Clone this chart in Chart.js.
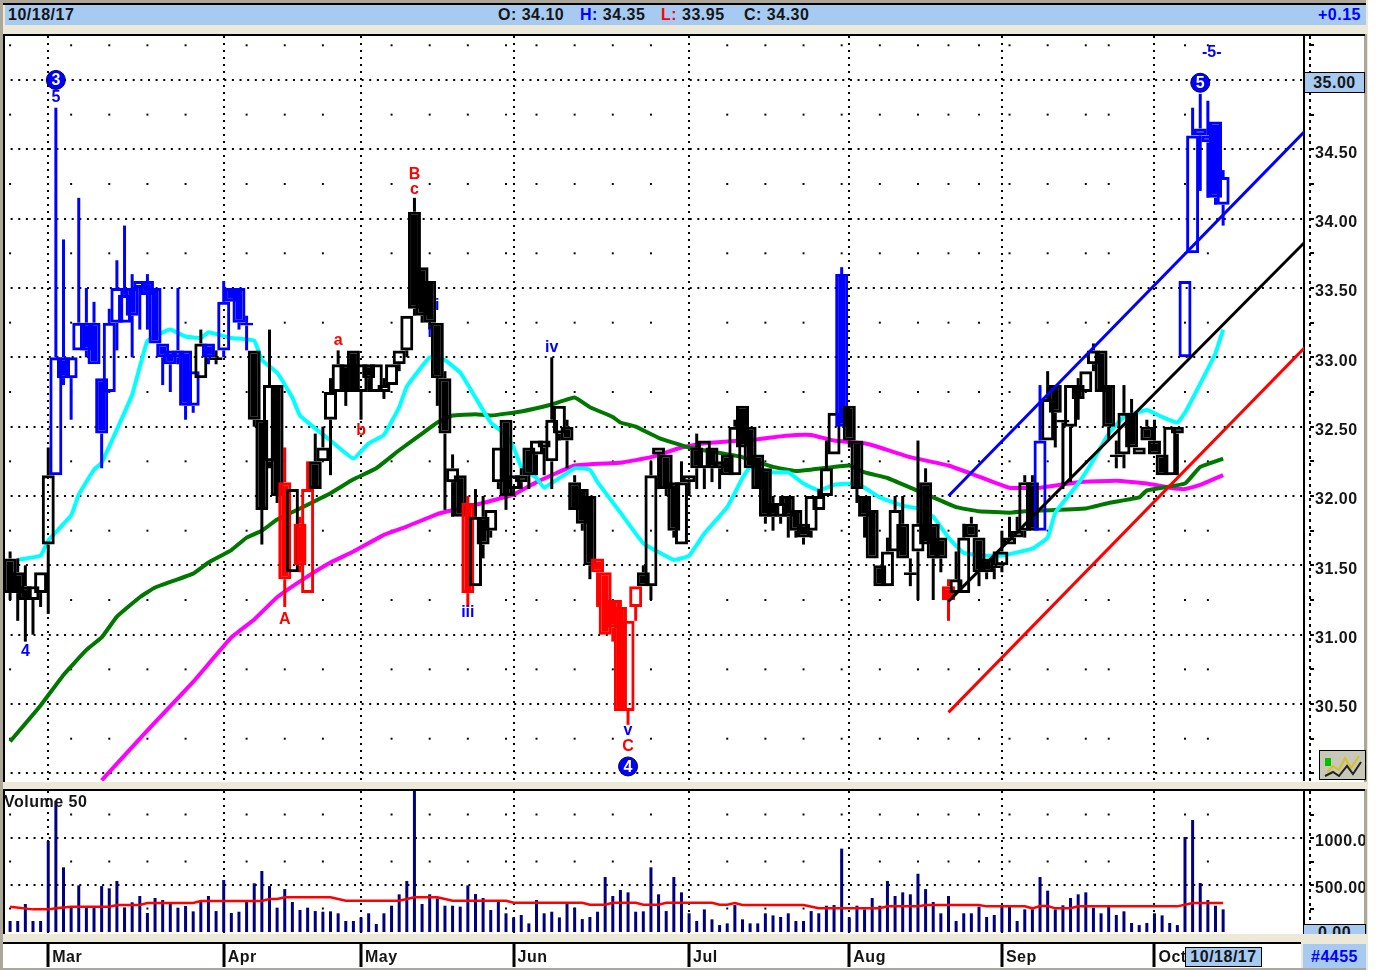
<!DOCTYPE html>
<html>
<head>
<meta charset="utf-8">
<title>10/18/17</title>
<script src="https://cdn.jsdelivr.net/npm/chart.js@4"></script>
<style>
  html, body { margin: 0; padding: 0; background: #fff; }
  #page { position: relative; width: 1368px; height: 970px; background: #ECE9D8; overflow: hidden;
          font: bold 16px "Liberation Sans", Arial, sans-serif; letter-spacing: 0.5px; color: #151515; }
  #page > div, #page > canvas, #page > svg { position: absolute; }
  .blue { background: #A6CAF0; }
  .white { background: #fff; }
  .black { background: #000; }
  .gray { background: #ACA899; }
</style>
</head>
<body>
<div id="page">
  <div class="gray" style="left:0;top:0;width:1366px;height:3px"></div>
  <div class="gray" style="left:0;top:0;width:3px;height:970px"></div>
  <div class="black" style="left:3px;top:3px;width:1363px;height:2px"></div>
  <div class="blue" style="left:5px;top:5px;width:1361px;height:20px"></div>
  <div style="left:8px;top:6px">10/18/17</div>
  <div style="left:498px;top:6px">O: 34.10</div>
  <div style="left:580px;top:6px"><span style="color:#00f">H:</span> 34.35</div>
  <div style="left:661px;top:6px"><span style="color:#f00">L:</span> 33.95</div>
  <div style="left:744px;top:6px">C: 34.30</div>
  <div style="left:1318px;top:6px;color:#00f">+0.15</div>

  <!-- price pane -->
  <div class="white" style="left:3px;top:34px;width:1362px;height:748px"></div>
  <div class="gray" style="left:1364px;top:34px;width:3px;height:748px"></div>
  <div class="black" style="left:3px;top:34px;width:1362px;height:2px"></div>
  <div class="black" style="left:3px;top:34px;width:2px;height:748px"></div>
  <canvas id="priceChart" width="1362" height="745" style="left:3px;top:36px"></canvas>
  <div style="left:1309px;top:36px;width:2px;height:745px;background:repeating-linear-gradient(#000 0 3px,transparent 3px 7px)"></div>
  <div class="blue" style="left:1304px;top:72px;width:61px;height:21px;border:1px solid #000;box-sizing:border-box;text-align:center;line-height:20px">35.00</div>
  <svg style="left:1319px;top:750px" width="47" height="30">
    <rect x="0.5" y="0.5" width="46" height="29" fill="#C8C8B8" stroke="#000"/>
    <rect x="6" y="8" width="6" height="8" fill="#00C000"/>
    <polyline points="8,22 14,16 20,20 26,8 32,18 40,6" fill="none" stroke="#D8C020" stroke-width="2"/>
    <polyline points="6,26 14,22 20,26 28,16 34,24 42,12" fill="none" stroke="#222" stroke-width="2"/>
  </svg>

  <!-- volume pane -->
  <div class="white" style="left:3px;top:789px;width:1362px;height:146px"></div>
  <div class="white" style="left:3px;top:942px;width:1298px;height:26px"></div>
  <div class="gray" style="left:1364px;top:789px;width:3px;height:146px"></div>
  <div class="black" style="left:3px;top:789px;width:1362px;height:2px"></div>
  <div class="black" style="left:3px;top:789px;width:2px;height:146px"></div>
  <canvas id="volumeChart" width="1362" height="177" style="left:3px;top:791px"></canvas>
  <div style="left:1309px;top:791px;width:2px;height:143px;background:repeating-linear-gradient(#000 0 3px,transparent 3px 7px)"></div>
  <div style="left:4px;top:793px">Volume 50</div>
  <div class="blue" style="left:1303px;top:924px;width:63px;height:11px;border:1px solid #000;border-bottom:0;box-sizing:border-box;text-align:center;line-height:15px;overflow:hidden">0.00</div>

  <!-- bottom strip -->
  <div style="left:3px;top:934px;width:1364px;height:8px;background:#ECE9D8"></div>
  <div class="black" style="left:3px;top:942px;width:1298px;height:2px"></div>
  <div class="gray" style="left:0;top:968px;width:1366px;height:2px"></div>
  <div class="blue" style="left:1185px;top:947px;width:77px;height:20px;border:1px solid #000;box-sizing:border-box;text-align:center;line-height:18px">10/18/17</div>
  <div class="blue" style="left:1303px;top:944px;width:63px;height:24px;color:#00f;text-align:center;line-height:26px">#4455</div>
</div>

<script>
// --- Daily prices, one entry per session (ten per line) ---
const opens = [
  31.55,31.45,31.35,31.25,31.30,31.65,32.15,33.00,32.85,33.05,
  33.25,33.25,32.85,32.75,33.25,33.25,33.50,33.50,33.55,33.50,
  33.10,33.05,33.05,33.05,32.65,32.85,33.10,33.00,33.05,33.50,
  33.50,33.25,33.05,32.55,32.25,32.80,32.10,31.45,31.80,31.30,
  32.25,32.25,32.55,32.75,32.95,33.05,32.75,32.95,32.75,32.75,
  32.80,32.95,33.05,34.05,33.65,33.55,33.25,32.85,32.10,32.15,
  31.95,31.35,31.85,31.75,32.10,32.55,32.05,32.15,32.35,32.30,
  32.35,32.25,32.45,32.50,32.10,32.05,32.00,31.55,31.45,31.25,
  31.20,30.45,31.20,31.45,31.35,32.30,32.30,32.10,31.65,32.10,
  32.35,32.20,32.35,32.25,32.30,32.15,32.65,32.50,32.30,32.20,
  31.95,31.85,32.00,31.90,31.80,31.75,31.90,32.00,32.30,33.60,
  32.65,32.40,32.00,31.90,31.50,31.35,31.60,31.80,31.45,31.60,
  32.10,31.80,31.70,31.35,31.30,31.30,31.80,31.70,31.55,31.50,
  31.50,31.65,31.70,31.75,32.10,31.75,32.40,32.80,32.55,32.50,
  32.80,32.75,32.95,33.05,32.80,32.30,32.30,32.60,32.30,32.50,
  32.40,32.30,32.15,32.50,33.00,33.75,34.65,34.60,34.70,34.10
];
const highs = [
  31.60,31.55,31.50,31.35,31.45,32.35,34.80,33.85,33.00,34.15,
  33.50,33.40,32.85,33.35,33.70,33.95,33.60,33.55,33.60,33.50,
  33.10,33.05,33.50,33.05,32.90,33.20,33.10,33.05,33.55,33.50,
  33.50,33.30,33.05,32.55,33.20,32.80,32.35,32.05,31.85,32.25,
  32.45,32.50,32.85,33.05,32.95,33.05,32.95,32.95,32.95,32.85,
  32.95,33.05,33.30,34.15,33.65,33.55,33.25,32.90,32.30,32.15,
  32.00,32.05,32.00,31.90,32.35,32.55,32.15,32.20,32.35,32.40,
  32.40,33.00,32.65,32.55,32.15,32.05,32.00,31.55,31.45,31.25,
  31.25,31.10,31.35,31.50,32.25,32.35,32.30,32.10,32.25,32.15,
  32.45,32.40,32.35,32.25,32.30,32.55,32.65,32.50,32.30,32.20,
  32.00,32.00,32.00,31.90,31.80,32.00,32.05,32.40,32.60,33.65,
  32.65,32.40,32.00,31.90,31.50,31.70,32.00,32.00,31.55,32.40,
  32.20,31.80,31.70,31.40,31.60,31.80,31.85,31.70,31.55,31.60,
  31.75,31.85,31.85,32.15,32.15,32.80,32.90,32.80,32.55,32.80,
  32.85,32.90,33.10,33.05,32.80,32.40,32.80,32.70,32.35,32.55,
  32.55,32.30,32.50,32.50,33.55,34.80,34.90,34.85,34.70,34.35
];
const lows = [
  31.25,31.10,30.95,31.00,31.20,31.15,32.15,32.80,32.55,33.05,
  33.00,32.95,32.20,32.75,33.05,33.25,33.00,33.20,33.20,33.10,
  32.80,32.75,32.95,32.55,32.60,32.85,32.95,32.95,33.00,33.40,
  33.20,33.05,32.50,31.65,32.20,31.95,31.20,31.45,31.45,31.30,
  32.05,32.25,32.15,32.75,32.65,32.75,32.55,32.75,32.75,32.70,
  32.80,32.90,33.00,33.30,33.25,33.20,32.65,31.90,31.85,31.85,
  31.20,31.35,31.55,31.70,32.05,31.90,32.00,32.05,32.05,32.15,
  32.15,32.05,32.40,32.20,31.90,31.75,31.40,31.20,31.00,30.95,
  30.45,30.35,31.10,31.35,31.25,32.05,32.00,31.70,31.65,32.00,
  32.05,32.05,32.10,32.05,32.15,32.15,32.35,32.20,32.05,31.80,
  31.75,31.80,31.70,31.70,31.65,31.70,31.90,32.00,32.30,32.50,
  32.35,31.95,31.70,31.55,31.35,31.35,31.60,31.55,31.35,31.25,
  31.65,31.25,31.45,31.10,31.30,31.30,31.70,31.35,31.40,31.40,
  31.45,31.65,31.70,31.70,31.75,31.75,32.40,32.35,32.05,32.10,
  32.55,32.75,32.90,32.75,32.40,32.20,32.20,32.35,32.30,32.40,
  32.30,32.15,32.15,32.15,33.00,33.75,34.20,34.15,34.10,33.95
];
const closes = [
  31.30,31.30,31.25,31.35,31.45,32.15,33.00,32.85,33.00,33.25,
  33.05,32.95,32.45,33.25,33.50,33.45,33.30,33.55,33.45,33.10,
  33.00,32.95,33.00,32.65,32.90,33.10,33.00,32.98,33.40,33.40,
  33.25,33.23,32.55,31.90,32.80,32.00,31.40,32.05,31.50,32.05,
  32.05,32.35,32.75,32.95,32.75,32.75,32.95,32.85,32.95,32.80,
  32.95,33.05,33.30,33.35,33.30,33.25,32.85,32.45,32.20,31.85,
  31.30,31.85,31.65,31.90,32.35,32.00,32.15,32.10,32.15,32.40,
  32.40,32.55,32.65,32.40,31.90,31.80,31.50,31.45,31.00,31.05,
  30.45,31.10,31.35,31.35,32.15,32.35,32.05,31.75,32.10,32.15,
  32.20,32.40,32.20,32.20,32.15,32.50,32.35,32.20,32.05,31.85,
  31.85,31.95,31.85,31.75,31.70,32.00,32.00,32.20,32.60,32.50,
  32.40,32.05,31.85,31.55,31.35,31.60,31.90,31.55,31.43,31.80,
  31.65,31.55,31.55,31.25,31.40,31.70,31.70,31.45,31.45,31.48,
  31.60,31.70,31.75,32.10,31.75,32.40,32.70,32.60,32.53,32.80,
  32.70,32.90,33.05,32.75,32.50,32.28,32.60,32.35,32.35,32.40,
  32.30,32.15,32.50,32.45,33.55,34.60,34.60,34.55,34.15,34.30
];
// k = black, b = blue, r = red
const barKinds = [
  'k','k','k','k','k','k','b','b','b','b',
  'b','b','b','b','b','b','b','b','b','b',
  'b','b','b','b','b','k','b','k','b','b',
  'b','b','k','k','k','k','r','k','r','r',
  'k','k','k','k','k','k','k','k','k','k',
  'k','k','k','k','k','k','k','k','k','k',
  'r','k','k','k','k','k','k','k','k','k',
  'k','k','k','k','k','k','k','r','r','r',
  'r','r','r','k','k','k','k','k','k','k',
  'k','k','k','k','k','k','k','k','k','k',
  'k','k','k','k','k','k','k','k','k','b',
  'k','k','k','k','k','k','k','k','k','k',
  'k','k','k','r','k','k','k','k','k','k',
  'k','k','k','k','k','b','k','k','k','k',
  'k','k','k','k','k','k','k','k','k','k',
  'k','k','k','k','b','b','b','b','b','b'
];
const volumes = [
  117,117,298,117,117,968,1397,688,270,496,
  262,270,489,465,543,262,316,383,202,362,
  340,305,259,277,220,323,383,223,553,202,
  216,323,518,649,489,259,457,319,234,259,
  223,216,220,199,117,117,156,199,85,199,
  280,401,543,1511,298,401,358,280,280,270,
  496,404,362,234,323,199,156,181,92,340,
  199,216,156,305,259,138,160,216,585,383,
  447,422,216,220,688,401,223,585,422,199,
  117,241,135,74,92,287,135,92,92,199,
  177,160,199,117,117,223,199,280,287,887,
  156,280,241,362,280,543,383,422,401,620,
  457,319,199,383,117,199,199,270,160,181,
  277,270,117,241,241,585,440,241,284,362,
  401,422,259,199,270,181,220,96,74,96,
  199,177,96,74,1011,1191,521,340,280,241
];

// --- Moving averages, read at the bends of each curve ---
const cyanDays = [1,4,5,8,9,11,12,14,16,18,20,21,23,25,26,29,32,33,35,37,38,42,45,47,49,51,52,55,57,59,61,63,65,66,67,69,70,74,76,77,80,83,87,89,91,94,96,97,100,102,104,106,108,111,114,117,119,121,123,125,128,130,134,136,137,140,142,144,146,149,151,153,154,156,158,159];
const cyanValues = [31.54,31.57,31.68,31.86,32.01,32.19,32.24,32.48,32.73,33.12,33.18,33.20,33.15,33.14,33.18,33.14,33.12,32.98,32.89,32.71,32.58,32.40,32.27,32.38,32.44,32.64,32.79,33.00,32.98,32.89,32.71,32.53,32.44,32.35,32.21,32.13,32.06,32.20,32.19,32.10,31.88,31.66,31.54,31.57,31.73,31.92,32.13,32.21,32.17,32.17,32.09,32.04,32.08,32.09,31.99,31.93,31.91,31.85,31.70,31.59,31.57,31.57,31.62,31.70,31.88,32.09,32.26,32.45,32.57,32.62,32.57,32.53,32.60,32.81,33.03,33.20];
const greenDays = [0,4,7,10,12,14,17,19,24,26,29,31,33,35,38,42,45,48,51,54,56,58,61,63,67,71,74,76,79,80,82,85,89,96,100,103,105,110,112,115,118,121,124,127,131,133,141,144,148,149,154,156,159];
const greenValues = [30.23,30.49,30.71,30.89,30.98,31.13,31.27,31.34,31.44,31.52,31.61,31.70,31.75,31.83,31.91,32.02,32.12,32.20,32.33,32.45,32.53,32.58,32.59,32.58,32.61,32.66,32.71,32.64,32.57,32.53,32.50,32.42,32.35,32.28,32.21,32.18,32.19,32.22,32.17,32.13,32.06,31.99,31.92,31.89,31.88,31.89,31.91,31.95,31.99,32.04,32.09,32.21,32.27];
const magentaDays = [12,18,24,29,32,35,39,42,45,49,52,56,59,62,66,69,74,80,84,88,91,98,101,103,105,108,112,114,118,123,127,131,135,140,145,149,152,154,156,159];
const magentaValues = [29.95,30.31,30.66,30.98,31.11,31.27,31.42,31.52,31.60,31.72,31.78,31.87,31.91,31.95,32.01,32.10,32.22,32.24,32.28,32.35,32.38,32.41,32.43,32.44,32.44,32.40,32.38,32.35,32.28,32.22,32.14,32.06,32.06,32.10,32.11,32.09,32.06,32.05,32.08,32.15];
const volAvgDays = [0,3,5,6,8,13,14,17,18,24,25,33,34,35,36,42,44,51,52,53,56,58,65,66,75,76,78,79,82,83,85,86,92,93,94,95,96,104,106,114,115,119,120,127,128,133,134,135,136,137,139,140,153,155,159];
const volAvgValues = [270,241,241,252,270,270,287,287,308,308,330,330,351,351,369,369,333,333,351,369,369,333,333,312,312,291,291,312,312,291,291,312,312,291,291,308,287,287,252,252,273,273,287,287,273,273,252,277,277,252,252,273,273,308,308];

// --- Trend lines: [start, end] ---
const trendDays = [123, 169.7];
const blueTrend = [32.00, 34.63];
const blackTrend = [31.24, 33.83];
const redTrend = [30.44, 33.07];

// --- Axes ---
const monthLabels = ['Mar','Apr','May','Jun','Jul','Aug','Sep','Oct'];
const monthStarts = [5,28,46,66,89,110,130,150];
const weekDays = [0,8,13,18,23,31,36,41,50,55,60,65,69,74,79,84,94,99,104,109,114,119,123,127,131,136,141,144,154,157];
const priceTicks = [30,30.25,30.5,30.75,31,31.25,31.5,31.75,32,32.25,32.5,32.75,33,33.25,33.5,33.75,34,34.25,34.5,34.75,35,35.25];
const priceMinor = [30.25,30.75,31.25,31.75,32.25,32.75,33.25,33.75,34.25,34.75,35.25];
const volumeTicks = [250,500,750,1000,1250];
const volumeMinor = [250,750,1250];

// --- Wave labels: [day, price, text, colour] ---
const waveLabels = [
  [6,34.87,'5','#0000FF'],[2,30.88,'4','#0000FF'],[43,33.12,'a','#FF0000'],[46,32.47,'b','#FF0000'],
  [53,34.32,'B','#FF0000'],[53,34.21,'c','#FF0000'],[36,31.11,'A','#FF0000'],[56,33.37,'i','#0000FF'],
  [55,33.18,'i','#0000FF'],[71,33.07,'iv','#0000FF'],[60,31.16,'iii','#0000FF'],[81,30.31,'v','#0000FF'],
  [81,30.19,'C','#FF0000'],[157.5,35.20,'-5-','#0000FF']
];
const waveCircles = [[6,35.00,'3'],[81,30.05,'4'],[156,34.98,'5']];

const COLORS = { k: '#000000', b: '#0000FF', r: '#FF0000' };
const FONT = { family: '"Liberation Sans", Arial, sans-serif', size: 16, weight: 'bold' };
const X_MIN = -0.93, X_MAX = 169.6;

const xy = (days, values) => days.map((d, i) => ({ x: d, y: values[i] }));
const grid = (xs, ys) => xs.flatMap(x => ys.map(y => ({ x, y })));
const days = opens.map((_, i) => i);
const colorOf = ctx => COLORS[barKinds[ctx.dataIndex]];

// the panes sit flush against the frame: no room kept for overhanging labels
const noPadding = s => { s.paddingLeft = s.paddingRight = s.paddingTop = s.paddingBottom = 0; };

const spacingPlugin = {
  id: 'spacing',
  beforeDraw(chart) { chart.ctx.letterSpacing = '0.5px'; }
};

const wavePlugin = {
  id: 'waves',
  afterDatasetsDraw(chart) {
    const { ctx, scales: { x, y } } = chart;
    ctx.save();
    ctx.textAlign = 'center';
    ctx.textBaseline = 'middle';
    ctx.letterSpacing = '0px';
    ctx.font = 'bold 16px "Liberation Sans", Arial, sans-serif';
    waveLabels.forEach(([d, p, text, color]) => {
      ctx.fillStyle = color;
      ctx.fillText(text, x.getPixelForValue(d), y.getPixelForValue(p));
    });
    waveCircles.forEach(([d, p, text]) => {
      const cx = x.getPixelForValue(d), cy = y.getPixelForValue(p);
      ctx.beginPath();
      ctx.arc(cx, cy, 9.5, 0, Math.PI * 2);
      ctx.fillStyle = '#0000FF';
      ctx.fill();
      ctx.lineWidth = 1;
      ctx.strokeStyle = '#000050';
      ctx.stroke();
      ctx.fillStyle = '#FFFFFF';
      ctx.fillText(text, cx, cy + 1);
    });
    ctx.restore();
  }
};

function line(data, color, width, order, tension) {
  return { type: 'line', data, borderColor: color, borderWidth: width, pointRadius: 0, order, tension: tension || 0, fill: false };
}

function dots(data) {
  return { type: 'scatter', data, pointStyle: 'rect', pointRadius: 1.4, pointBorderWidth: 0, backgroundColor: '#000', order: 20 };
}

function xScale(showLabels) {
  return {
    type: 'linear', min: X_MIN, max: X_MAX, offset: false, stacked: true,
    afterBuildTicks: s => { s.ticks = monthStarts.map(v => ({ value: v })); },
    afterFit: s => { s.height = showLabels ? 34 : 0; noPadding(s); },
    border: { display: false, dash: c => c.tick ? [2, 5] : [] },
    grid: {
      offset: false, color: '#000', lineWidth: 2,
      drawTicks: showLabels, tickLength: 33, tickWidth: 3, tickColor: '#000', tickBorderDash: []
    },
    ticks: {
      display: showLabels, autoSkip: false, maxRotation: 0, minRotation: 0, align: 'start', labelOffset: 4,
      padding: -19, color: '#151515', font: FONT,
      callback: v => monthLabels[monthStarts.indexOf(v)] || ''
    }
  };
}

function yScale(min, max, ticks, isMajor, format) {
  return {
    type: 'linear', position: 'right', min, max, stacked: false,
    afterBuildTicks: s => { s.ticks = ticks.map(v => ({ value: v })); },
    afterFit: s => { s.width = 61; noPadding(s); },
    border: { display: true, color: '#000', width: 2, dash: c => c.tick ? [2, 5.63] : [] },
    grid: {
      color: c => c.tick && isMajor(c.tick.value) ? '#000' : 'rgba(0,0,0,0)',
      lineWidth: 2, tickColor: '#000', tickWidth: 2, tickLength: 10,
      tickBorderDash: c => c.tick && isMajor(c.tick.value) ? [0, 5, 6] : [0, 5, 3]
    },
    ticks: { autoSkip: false, padding: 1, crossAlign: 'near', labelOffset: 4, color: '#151515', font: FONT, callback: format }
  };
}

const baseOptions = {
  responsive: false, animation: false, devicePixelRatio: 1,
  layout: { padding: 0, autoPadding: false },
  plugins: { legend: { display: false }, tooltip: { enabled: false } }
};

new Chart(document.getElementById('priceChart'), {
  type: 'bar',
  data: {
    datasets: [
      line(xy(trendDays, blueTrend), '#0000FF', 3, 1),
      line(xy(trendDays, blackTrend), '#000000', 3, 2),
      line(xy(trendDays, redTrend), '#FF0000', 3, 3),
      { // bodies: filled when the close is below the open
        data: days.map(i => ({ x: i, y: [Math.min(opens[i], closes[i]), Math.max(opens[i], closes[i])] })),
        stack: 'p', barThickness: 13, inflateAmount: 0, borderSkipped: false, borderWidth: 3, order: 4,
        borderColor: colorOf,
        backgroundColor: c => closes[c.dataIndex] < opens[c.dataIndex] ? COLORS[barKinds[c.dataIndex]] : 'rgba(0,0,0,0)'
      },
      { // upper wicks
        data: days.map(i => ({ x: i, y: [Math.max(opens[i], closes[i]), highs[i]] })),
        stack: 'p', barThickness: 3, inflateAmount: 0, borderWidth: 0, order: 5, backgroundColor: colorOf
      },
      { // lower wicks
        data: days.map(i => ({ x: i, y: [lows[i], Math.min(opens[i], closes[i])] })),
        stack: 'p', barThickness: 3, inflateAmount: 0, borderWidth: 0, order: 6, backgroundColor: colorOf
      },
      line(xy(cyanDays, cyanValues), '#00FFFF', 4, 7, 0.1),
      line(xy(greenDays, greenValues), '#007800', 4, 8, 0.1),
      line(xy(magentaDays, magentaValues), '#FF00FF', 4, 9, 0.1),
      dots(grid(weekDays, priceMinor))
    ]
  },
  options: {
    ...baseOptions,
    scales: {
      x: xScale(false),
      y: yScale(29.945, 35.317, priceTicks, v => Number.isInteger(v * 2),
        v => (Number.isInteger(v * 2) && v >= 30.5 && v <= 34.5) ? v.toFixed(2) : '')
    }
  },
  plugins: [spacingPlugin, wavePlugin]
});

new Chart(document.getElementById('volumeChart'), {
  type: 'bar',
  data: {
    datasets: [
      line(xy(volAvgDays, volAvgValues), '#FF0000', 2.5, 1),
      {
        data: days.map(i => ({ x: i, y: volumes[i] })),
        stack: 'v', barThickness: 3, inflateAmount: 0, borderWidth: 0, order: 2, backgroundColor: '#000080'
      },
      dots(grid(weekDays, volumeMinor))
    ]
  },
  options: {
    ...baseOptions,
    scales: {
      x: xScale(true),
      y: yScale(-21, 1500, volumeTicks, v => v % 500 === 0, v => v % 500 === 0 ? v.toFixed(2) : '')
    }
  },
  plugins: [spacingPlugin]
});
</script>
</body>
</html>
